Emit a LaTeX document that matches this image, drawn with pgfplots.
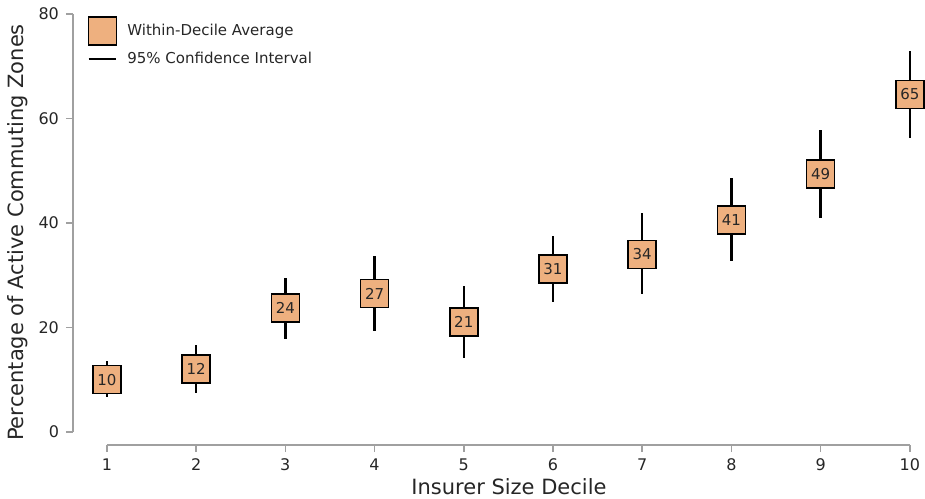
\documentclass[border=0pt]{standalone}
\usepackage{fontspec}
\setmainfont{DejaVu Sans}
\usepackage{pgfplots}
\pgfplotsset{compat=1.18}
\usepackage{pgfplotstable}
\definecolor{boxfill}{RGB}{238,176,127}
\definecolor{spine}{RGB}{160,160,160}
\definecolor{txt}{RGB}{38,38,38}

\pgfplotstableread{
x y ep em lab
1 10.0 3.5 3.4 10
2 12.0 4.7 4.6 12
3 23.7 5.8 6.0 24
4 26.5 7.2 7.2 27
5 21.0 6.9 6.8 21
6 31.2 6.3 6.3 31
7 34.0 7.9 7.6 34
8 40.6 8.0 7.9 41
9 49.4 8.4 8.5 49
10 64.6 8.3 8.3 65
}\datatable

\begin{document}
\begin{tikzpicture}
\begin{axis}[
  scale only axis, width=426pt, height=215.5pt,
  xmin=0.62, xmax=10.17, ymin=-2.5, ymax=80,
  axis x line*=bottom, axis y line*=left,
  axis line style={draw=none},
  every outer x axis line/.append style={-},
  every outer y axis line/.append style={-},
  xtick={1,...,10}, ytick={0,20,...,80},
  minor tick num=0,
  tick align=outside, major tick length=3.5pt,
  tick style={draw=spine, line width=0.8pt},
  ticklabel style={font=\fontsize{8}{9.5}\selectfont, text=txt},
  /pgf/number format/assume math mode=true,
  clip=false,
  xlabel={Insurer Size Decile},
  every axis x label/.style={at={(axis description cs:0.5117,0)}, anchor=center, yshift=-21pt, font=\fontsize{10.5}{12}\selectfont, text=txt},
  ylabel={Percentage of Active Commuting Zones},
  every axis y label/.style={at={(axis description cs:-0.0652,0.493)}, anchor=center, rotate=90, font=\fontsize{10.5}{12}\selectfont, text=txt},
  legend style={at={(axis description cs:0,1)}, anchor=north west, draw=none, fill=none, font=\fontsize{7.5}{9}\selectfont, text=txt, row sep=1pt, xshift=4pt, yshift=1pt,
    /tikz/every odd column/.append style={column sep=3pt}},
  legend cell align=left,
]
\draw[spine, line width=0.8pt] (axis cs:1,-2.5) -- (axis cs:10,-2.5);
\draw[spine, line width=0.8pt] (axis cs:0.62,0) -- (axis cs:0.62,80);

\addplot[draw=none, no marks, forget plot,
  error bars/.cd, y dir=both, y explicit, error mark=none,
  error bar style={draw=black, line width=1.25pt}]
  table[x=x, y=y, y error plus=ep, y error minus=em] {\datatable};

\addplot[only marks, mark=square*, mark size=7pt,
  mark options={fill=boxfill, draw=black, line width=0.75pt},
  nodes near coords, point meta=explicit symbolic,
  nodes near coords style={anchor=center, font=\fontsize{7.5}{9}\selectfont, text=txt},
  legend image code/.code={\draw[fill=boxfill, draw=black, line width=0.75pt] (0pt,-7pt) rectangle (14pt,7pt);}]
  table[x=x, y=y, meta=lab] {\datatable};
\addlegendentry{Within-Decile Average}
\addlegendimage{legend image code/.code={\draw[black, line width=1.25pt] (0pt,0pt) -- (13.5pt,0pt);}}
\addlegendentry{95\% Confidence Interval}
\end{axis}
\pgfresetboundingbox
\path ([shift={(-36.5pt,-26.5pt)}]current axis.south west) rectangle ([shift={(0pt,7pt)}]current axis.north east);
\end{tikzpicture}
\end{document}
